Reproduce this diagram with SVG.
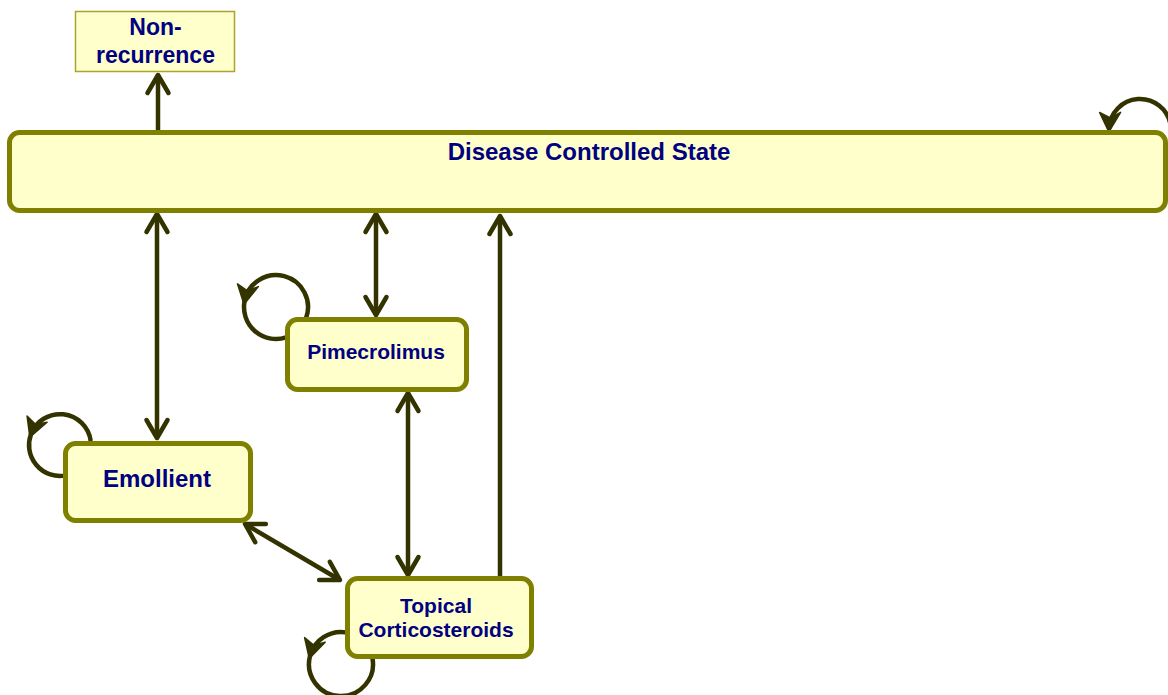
<svg xmlns="http://www.w3.org/2000/svg" width="1168" height="695" viewBox="0 0 1168 695">
  <style>
    .state { fill: #ffffcc; stroke: #808000; stroke-width: 5; }
    .terminal { fill: #ffffcc; stroke: #aca22c; stroke-width: 1.5; }
    .label { font-family: "Liberation Sans", Arial, sans-serif; font-weight: bold; fill: #000080; text-anchor: middle; }
    .edge { fill: none; stroke: #333300; stroke-width: 4.5; }
    .loop { fill: none; stroke: #333300; stroke-width: 4.5; }
  </style>
  <defs>
    <marker id="open" markerUnits="userSpaceOnUse" markerWidth="40" markerHeight="40" refX="0" refY="0" orient="auto-start-reverse" style="overflow:visible">
      <path d="M-18,-10.5 L0,0 L-18,10.5" fill="none" stroke="#333300" stroke-width="4.5" stroke-linecap="round" stroke-linejoin="round"/>
    </marker>
    <marker id="solid" markerUnits="userSpaceOnUse" markerWidth="40" markerHeight="40" refX="0" refY="0" orient="auto" style="overflow:visible">
      <path d="M3,0 L-17,-11 L-11,-1 L-16,10 Z" fill="#333300" stroke="#333300" stroke-width="1.5" stroke-linejoin="round"/>
    </marker>
  </defs>

  <rect width="1168" height="695" fill="#ffffff"/>

  <!-- transitions between states -->
  <g id="connectors">
    <path class="edge" d="M158,130 L158,75" marker-end="url(#open)"/>
    <path class="edge" d="M157,214 L157,438" marker-start="url(#open)" marker-end="url(#open)"/>
    <path class="edge" d="M376,214 L376,315" marker-start="url(#open)" marker-end="url(#open)"/>
    <path class="edge" d="M408,393 L408,575" marker-start="url(#open)" marker-end="url(#open)"/>
    <path class="edge" d="M500,576 L500,216" marker-end="url(#open)"/>
    <path class="edge" d="M245,524 L340,580" marker-start="url(#open)" marker-end="url(#open)"/>

    <!-- self transitions -->
    <path class="loop" d="M1170.5,124.6 A31,31 0 0 0 1109,128.9" marker-end="url(#solid)"/>

    <path class="loop" d="M306.1,317.9 A32,32 0 1 0 244.5,301.4" marker-end="url(#solid)"/>
    <path class="loop" d="M244.5,301.4 A32,32 0 0 0 286.1,337.4"/>

    <path class="loop" d="M90.7,441 A31,31 0 0 0 30.9,434.4" marker-end="url(#solid)"/>
    <path class="loop" d="M30.9,434.4 A31,31 0 0 0 65,475.6"/>

    <path class="loop" d="M346,632.4 A32,32 0 0 0 310.1,655.7" marker-end="url(#solid)"/>
    <path class="loop" d="M310.1,655.7 A32,32 0 1 0 372.4,658"/>
  </g>

  <g id="non-recurrence">
    <rect class="terminal" x="75.5" y="11.5" width="159" height="60"/>
    <text class="label" x="155.5" y="35" font-size="23">Non-</text>
    <text class="label" x="155.5" y="63" font-size="23">recurrence</text>
  </g>

  <g id="disease-controlled">
    <rect class="state" x="9.5" y="132.5" width="1156" height="78" rx="10"/>
    <text class="label" x="589" y="160" font-size="24">Disease Controlled State</text>
  </g>

  <g id="pimecrolimus">
    <rect class="state" x="287.5" y="319.5" width="179" height="70" rx="10"/>
    <text class="label" x="376" y="359" font-size="21">Pimecrolimus</text>
  </g>

  <g id="emollient">
    <rect class="state" x="65.5" y="443.5" width="185" height="77" rx="10"/>
    <text class="label" x="157" y="487" font-size="24">Emollient</text>
  </g>

  <g id="topical-corticosteroids">
    <rect class="state" x="347.5" y="578.5" width="184" height="78" rx="10"/>
    <text class="label" x="436" y="613" font-size="21">Topical</text>
    <text class="label" x="436" y="637" font-size="21">Corticosteroids</text>
  </g>
</svg>
